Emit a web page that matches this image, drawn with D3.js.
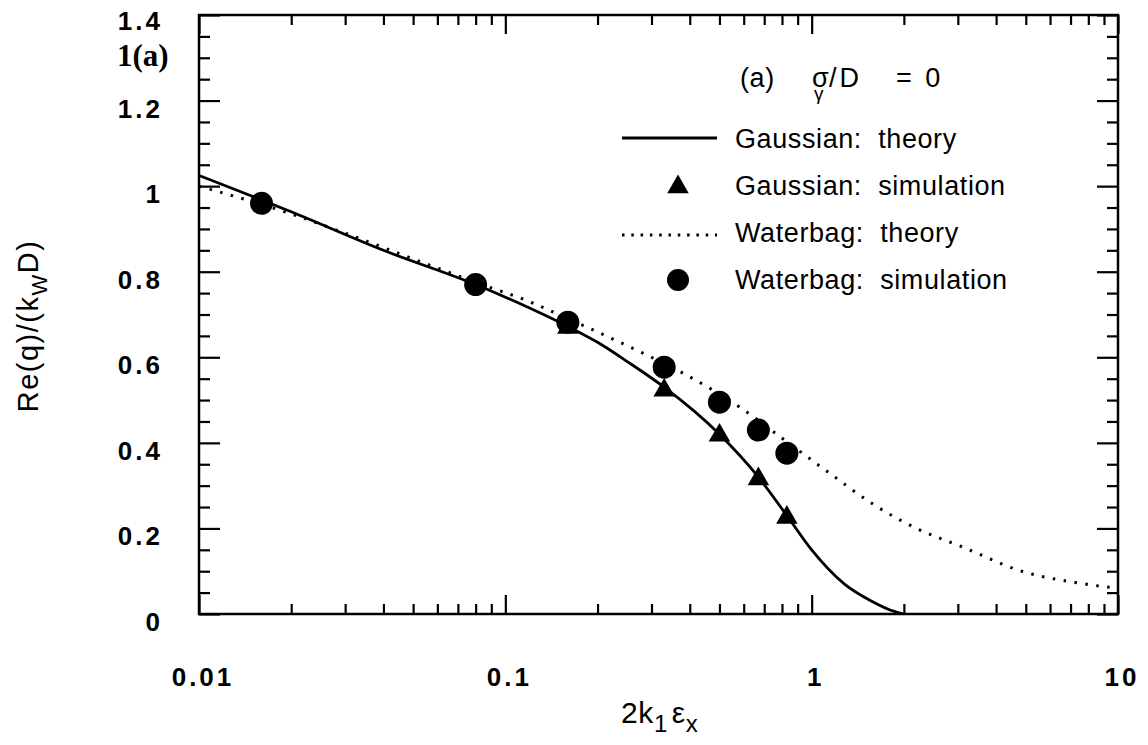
<!DOCTYPE html>
<meta charset='utf-8'>
<head>
    <title>Re(q) vs 2k1ex</title>
    <script src='https://cdn.jsdelivr.net/npm/d3@7/dist/d3.min.js'></script>
</head>

<style>
    body { margin: 0; background: white; }
    svg { font-family: 'Liberation Sans', Arial, sans-serif; }
    .frame { fill: none; stroke: black; stroke-width: 2.5px; }
    .axis path { display: none; }
    .axis line { stroke: black; stroke-width: 2.2px; }
    .ticklab { font-size: 26px; font-weight: bold; letter-spacing: 3px; fill: black; }
    .solid { fill: none; stroke: black; stroke-width: 2.8px; }
    .dotted { fill: none; stroke: black; stroke-width: 3px; stroke-dasharray: 2.5 8.5; }
    .leg { font-size: 27px; fill: black; white-space: pre; letter-spacing: 0.6px; }
</style>

<svg>
    <g></g>
</svg>

<script>
    var vWidth = 1148;
    var vHeight = 745;

    // tick values and labels
    var xTicks = [0.01, 0.1, 1, 10];
    var xTickLabels = ['0.01', '0.1', '1', '10'];
    var yTicks = [0, 0.2, 0.4, 0.6, 0.8, 1, 1.2, 1.4];
    var yTickLabels = ['0', '0.2', '0.4', '0.6', '0.8', '1', '1.2', '1.4'];

    // Gaussian theory (solid curve)
    var gaussTheoryX = [0.01, 0.02, 0.04, 0.08, 0.12, 0.16, 0.2, 0.25, 0.33, 0.5, 0.67, 0.83, 1.0, 1.28, 1.57, 1.86, 2.0];
    var gaussTheoryY = [1.025, 0.94, 0.85, 0.77, 0.715, 0.672, 0.635, 0.59, 0.53, 0.42, 0.32, 0.23, 0.15, 0.07, 0.03, 0.006, 0];

    // Gaussian simulation (triangles)
    var gaussSimX = [0.16, 0.33, 0.5, 0.67, 0.83];
    var gaussSimY = [0.672, 0.525, 0.42, 0.318, 0.228];

    // Waterbag theory (dotted curve)
    var waterTheoryX = [0.01, 0.02, 0.03, 0.05, 0.08, 0.12, 0.16, 0.185, 0.29, 0.38, 0.6, 0.79, 1.13, 1.6, 2.2, 3.1, 4.85, 7.5, 10];
    var waterTheoryY = [1.0, 0.935, 0.89, 0.83, 0.775, 0.73, 0.69, 0.67, 0.605, 0.563, 0.477, 0.414, 0.332, 0.255, 0.2, 0.157, 0.1, 0.072, 0.06];

    // Waterbag simulation (circles)
    var waterSimX = [0.016, 0.08, 0.16, 0.33, 0.5, 0.67, 0.83];
    var waterSimY = [0.96, 0.77, 0.682, 0.577, 0.495, 0.43, 0.376];

    var svg = d3.select('svg').attr('width', vWidth).attr('height', vHeight);
    var g = svg.select('g');

    var pLeft = 199, pRight = 1118, pTop = 15, pBottom = 614;
    var x = d3.scaleLog().domain([0.01, 10]).range([pLeft, pRight]);
    var y = d3.scaleLinear().domain([0, 1.4]).range([pBottom, pTop]);

    // minor ticks
    var xMinor = [];
    [0.01, 0.1, 1].forEach(function(d) {
        for (var i = 2; i <= 9; i++) xMinor.push(d * i);
    });
    var yMinor = d3.range(0, 29).map(function(i) { return i * 0.05; })
        .filter(function(d, i) { return i % 4 !== 0; });

    function addAxis(axis, tx, ty) {
        g.append('g').attr('class', 'axis')
            .attr('transform', 'translate(' + tx + ',' + ty + ')')
            .call(axis.tickFormat(''));
    }
    addAxis(d3.axisBottom(x).tickValues(xTicks).tickSize(-19), 0, pBottom);
    addAxis(d3.axisBottom(x).tickValues(xMinor).tickSize(-10), 0, pBottom);
    addAxis(d3.axisTop(x).tickValues(xTicks).tickSize(-19), 0, pTop);
    addAxis(d3.axisTop(x).tickValues(xMinor).tickSize(-10), 0, pTop);
    addAxis(d3.axisLeft(y).tickValues(yTicks).tickSize(-21), pLeft, 0);
    addAxis(d3.axisLeft(y).tickValues(yMinor).tickSize(-11), pLeft, 0);
    addAxis(d3.axisRight(y).tickValues(yTicks).tickSize(-21), pRight, 0);
    addAxis(d3.axisRight(y).tickValues(yMinor).tickSize(-11), pRight, 0);

    g.append('rect').attr('class', 'frame')
        .attr('x', pLeft).attr('y', pTop)
        .attr('width', pRight - pLeft).attr('height', pBottom - pTop);

    // tick labels
    g.selectAll('.xlab').data(xTicks).enter().append('text')
        .attr('class', 'ticklab').attr('text-anchor', 'middle')
        .attr('x', function(d) { return x(d) + 4; })
        .attr('y', pBottom + 72)
        .text(function(d, i) { return xTickLabels[i]; });
    g.selectAll('.ylab').data(yTicks).enter().append('text')
        .attr('class', 'ticklab').attr('text-anchor', 'end')
        .attr('x', pLeft - 36)
        .attr('y', function(d) { return y(d) + (d === 1.4 ? 15 : 17); })
        .text(function(d, i) { return yTickLabels[i]; });

    // axis titles
    var xt = g.append('text').attr('class', 'leg').style('font-size', '30px')
        .attr('x', 621).attr('y', 723);
    xt.append('tspan').text('2k');
    xt.append('tspan').attr('dy', 9).style('font-size', '24px').text('1');
    xt.append('tspan').attr('dy', -9).attr('dx', 4).text('ε');
    xt.append('tspan').attr('dy', 9).style('font-size', '24px').text('x');

    var yt = g.append('text').attr('class', 'leg')
        .style('font-size', '29px').style('letter-spacing', '1.5px')
        .attr('transform', 'translate(38,326) rotate(-90)')
        .attr('text-anchor', 'middle');
    yt.append('tspan').text('Re(q)/(k');
    yt.append('tspan').attr('dy', 9).style('font-size', '22px').text('W');
    yt.append('tspan').attr('dy', -9).text('D)');

    g.append('text').attr('x', 117).attr('y', 66)
        .attr('font-family', "'Liberation Serif', 'Times New Roman', serif")
        .attr('font-weight', 'bold').attr('font-size', '31px')
        .text('1(a)');

    // curves
    var line = d3.line().curve(d3.curveMonotoneX)
        .x(function(d) { return x(d[0]); })
        .y(function(d) { return y(d[1]); });

    g.append('path').attr('class', 'dotted')
        .attr('d', line(d3.zip(waterTheoryX, waterTheoryY)));
    g.append('path').attr('class', 'solid')
        .attr('d', line(d3.zip(gaussTheoryX, gaussTheoryY)));

    var tri = d3.symbol().type(d3.symbolTriangle).size(200);
    g.selectAll('.tri').data(d3.zip(gaussSimX, gaussSimY)).enter().append('path')
        .attr('d', tri)
        .attr('transform', function(d) { return 'translate(' + x(d[0]) + ',' + (y(d[1]) + 1) + ')'; });
    g.selectAll('.circ').data(d3.zip(waterSimX, waterSimY)).enter().append('circle')
        .attr('r', 11.5)
        .attr('cx', function(d) { return x(d[0]); })
        .attr('cy', function(d) { return y(d[1]); });

    // legend header: (a)  sigma_gamma / D = 0
    g.append('text').attr('class', 'leg').attr('x', 740).attr('y', 87).text('(a)');
    g.append('text').attr('class', 'leg').attr('x', 812).attr('y', 87).text('σ');
    g.append('text').attr('class', 'leg').style('font-size', '19px').attr('x', 814).attr('y', 100).text('γ');
    g.append('text').attr('class', 'leg').style('letter-spacing', '3px').attr('x', 829).attr('y', 87).text('/D');
    g.append('text').attr('class', 'leg').style('letter-spacing', '3px').attr('x', 896).attr('y', 87).text('= 0');

    var lx = 622, lw = 95, tx = 735;
    var rows = [148, 195, 242, 289];
    var legLabels = ['Gaussian:  theory', 'Gaussian:  simulation', 'Waterbag:  theory', 'Waterbag:  simulation'];
    g.selectAll('.lt').data(legLabels).enter().append('text')
        .attr('class', 'leg').attr('x', tx)
        .attr('y', function(d, i) { return rows[i]; })
        .text(function(d) { return d; });
    g.append('line').attr('class', 'solid')
        .attr('x1', lx).attr('x2', lx + lw).attr('y1', rows[0] - 10).attr('y2', rows[0] - 10);
    g.append('path').attr('d', tri).attr('transform', 'translate(678,' + (rows[1] - 8) + ')');
    g.append('line').attr('class', 'dotted').style('stroke-dasharray', '2.5 6.8')
        .attr('x1', lx).attr('x2', lx + lw).attr('y1', rows[2] - 7).attr('y2', rows[2] - 7);
    g.append('circle').attr('r', 11).attr('cx', 678).attr('cy', rows[3] - 9);
</script>
